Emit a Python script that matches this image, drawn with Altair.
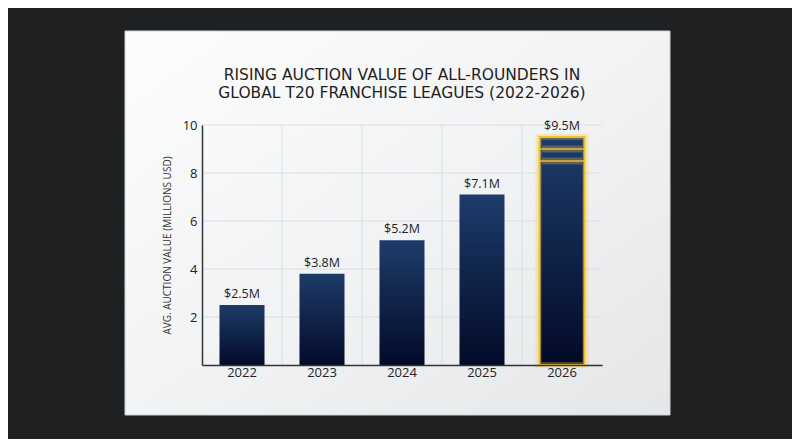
import altair as alt
import pandas as pd

years = ["2022", "2023", "2024", "2025", "2026"]
values = [2.5, 3.8, 5.2, 7.1, 9.5]
labels = ["$2.5M", "$3.8M", "$5.2M", "$7.1M", "$9.5M"]
highlight_year = "2026"
highlight_lines = [9.0, 8.5]
y_ticks = [2, 4, 6, 8, 10]
title_lines = ["RISING AUCTION VALUE OF ALL-ROUNDERS IN",
               "GLOBAL T20 FRANCHISE LEAGUES (2022-2026)"]
y_title = "AVG. AUCTION VALUE (MILLIONS USD)"

df = pd.DataFrame({"year": years, "value": values, "label": labels})
hl = pd.DataFrame({"year": [highlight_year] * len(highlight_lines), "value": highlight_lines})
grid_y = pd.DataFrame({"value": y_ticks})
grid_x = pd.DataFrame({"year": years[1:]})
one_df = pd.DataFrame({"k": [0]})

FONT = "Open Sans"
TFONT = "DejaVu Sans"
W, H = 400, 240
GRID = "#dcdfe2"

x_scale = alt.Scale(domain=years, paddingInner=0, paddingOuter=0)
y_scale = alt.Scale(domain=[0, 10], nice=False)

x_enc = alt.X("year:N", scale=x_scale,
              axis=alt.Axis(title=None, labelFontSize=13, labelColor="#222",
                            labelFont=FONT, labelPadding=7, ticks=False,
                            domain=True, domainColor="#333", domainWidth=1.5,
                            grid=False, labelAngle=0, labelAlign="center",
                            zindex=1, bandPosition=0.5))
y_enc = alt.Y("value:Q", scale=y_scale,
              axis=alt.Axis(title=y_title, values=y_ticks, titleFontSize=10,
                            titleFont=FONT, titleColor="#333",
                            titleFontWeight="normal", titlePadding=10,
                            labelFontSize=13, labelColor="#222", labelFont=FONT,
                            labelPadding=5, ticks=False, domain=True,
                            domainColor="#333", domainWidth=1.5, grid=False,
                            zindex=1))

card = alt.Chart(one_df).mark_rect(
    fill=alt.Gradient(gradient="linear", x1=0, y1=0, x2=1, y2=1,
                      stops=[alt.GradientStop(offset=0, color="#fdfdfd"),
                             alt.GradientStop(offset=0.5, color="#f1f3f4"),
                             alt.GradientStop(offset=1, color="#e4e6e8")]),
    stroke="#cfd2d4", strokeWidth=1
).encode(x=alt.value(-77), x2=alt.value(468), y=alt.value(-94), y2=alt.value(290))

title1 = alt.Chart(one_df).mark_text(
    font=TFONT, fontSize=15.5, color="#1e1e1e", align="center", baseline="alphabetic"
).encode(x=alt.value(W / 2), y=alt.value(-45), text=alt.value(title_lines[0]))

title2 = alt.Chart(one_df).mark_text(
    font=TFONT, fontSize=15.5, color="#1e1e1e", align="center", baseline="alphabetic"
).encode(x=alt.value(W / 2), y=alt.value(-27), text=alt.value(title_lines[1]))

hgrid = alt.Chart(grid_y).mark_rule(color=GRID, strokeWidth=1).encode(
    y=alt.Y("value:Q", scale=y_scale), x=alt.value(0), x2=alt.value(W))

vgrid = alt.Chart(grid_x).mark_rule(color=GRID, strokeWidth=1).encode(
    x=alt.X("year:N", scale=x_scale, bandPosition=0), y=alt.value(0), y2=alt.value(H))

bars = alt.Chart(df).mark_bar(
    size=45,
    fill=alt.Gradient(gradient="linear", x1=0, y1=0, x2=0, y2=1,
                      stops=[alt.GradientStop(offset=0, color="#1d3c6a"),
                             alt.GradientStop(offset=1, color="#030a28")])
).encode(x=x_enc, y=y_enc)

glow = alt.Chart(df).transform_filter(
    alt.datum.year == highlight_year
).mark_bar(size=47, fillOpacity=0, stroke="#f6c93a", strokeWidth=6,
           strokeOpacity=0.3).encode(x=alt.X("year:N", scale=x_scale),
                                     y=alt.Y("value:Q", scale=y_scale))

outline = alt.Chart(df).transform_filter(
    alt.datum.year == highlight_year
).mark_bar(size=45, fillOpacity=0, stroke="#f2c02e", strokeWidth=2).encode(
    x=alt.X("year:N", scale=x_scale), y=alt.Y("value:Q", scale=y_scale))

band_glow = alt.Chart(hl).mark_tick(
    size=40, thickness=7, color="#f7c948", opacity=0.3
).encode(x=alt.X("year:N", scale=x_scale), y=alt.Y("value:Q", scale=y_scale))

band_lines = alt.Chart(hl).mark_tick(
    size=45, thickness=2, color="#f2c02e"
).encode(x=alt.X("year:N", scale=x_scale), y=alt.Y("value:Q", scale=y_scale))

texts = alt.Chart(df).mark_text(
    baseline="bottom", dy=-4, fontSize=12.5, font=FONT, color="#222"
).encode(x=alt.X("year:N", scale=x_scale), y=alt.Y("value:Q", scale=y_scale),
         text="label:N")

chart = alt.layer(card, title1, title2, hgrid, vgrid, bars, glow, outline,
                  band_glow, band_lines, texts).properties(
    width=W, height=H,
    background="#1f2022",
    padding={"left": 194, "top": 117, "right": 190, "bottom": 74},
    autosize=alt.AutoSizeParams(type="none"),
).configure_view(stroke=None)

chart.save("out.html", embed_options={"renderer": "svg", "actions": False})
